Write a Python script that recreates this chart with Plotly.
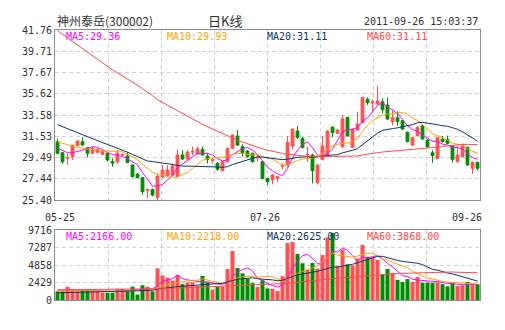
import plotly.graph_objects as go
import pandas as pd

# ---------------- data ----------------
date_labels = ["05-25", "07-26", "09-26"]
date_idx = [0, 42, 84]

price_ticks = [25.40, 27.44, 29.49, 31.53, 33.58, 35.62, 37.67, 39.71, 41.76]
vol_ticks = [0, 2429, 4858, 7287, 9716]

open_ = [31.01, 29.95, 29.42, 29.57, 30.63, 31.00, 30.43, 29.90, 30.00, 29.80,
         29.89, 29.10, 29.05, 29.72, 29.63, 28.77, 27.90, 27.55, 26.35, 26.40,
         25.65, 27.65, 27.74, 27.80, 27.65, 29.73, 29.35, 30.02, 29.83, 30.27,
         29.63, 29.22, 28.93, 28.22, 29.09, 30.37, 31.56, 30.53, 30.11, 29.89,
         29.45, 29.09, 27.48, 27.38, 27.48, 28.65, 28.77, 30.60, 32.04, 31.33,
         29.78, 29.73, 27.07, 29.31, 29.63, 32.40, 31.82, 30.53, 33.36, 30.47,
         32.14, 32.84, 35.09, 34.77, 34.64, 34.86, 34.54, 32.94, 33.32, 33.03,
         31.91, 30.69, 31.59, 32.52, 31.17, 29.95, 29.41, 31.24, 31.24, 30.60,
         29.09, 29.57, 30.47, 28.45, 29.02]
high = [31.34, 30.00, 29.89, 30.70, 31.12, 31.45, 30.50, 30.50, 30.40, 30.15,
        29.95, 29.40, 30.20, 29.88, 30.00, 28.80, 27.95, 27.60, 26.50, 26.50,
        27.90, 28.75, 28.77, 28.90, 30.27, 30.20, 30.20, 30.53, 30.53, 30.53,
        29.95, 29.41, 29.05, 29.15, 30.45, 31.72, 32.13, 30.75, 30.20, 29.95,
        29.73, 29.15, 27.55, 27.90, 27.70, 28.93, 31.56, 32.25, 32.52, 31.45,
        30.53, 29.85, 28.85, 31.56, 32.10, 32.52, 32.25, 33.58, 33.40, 32.30,
        33.90, 35.30, 35.28, 35.10, 36.37, 35.18, 35.25, 34.05, 33.90, 33.10,
        32.00, 31.45, 32.52, 32.60, 31.25, 30.20, 31.45, 31.56, 31.60, 30.65,
        30.60, 30.85, 30.55, 29.10, 29.10]
low = [29.80, 28.90, 28.80, 29.25, 30.58, 30.62, 29.50, 29.80, 29.90, 29.70,
       29.10, 28.60, 28.90, 29.60, 28.95, 27.58, 27.48, 25.90, 25.56, 25.75,
       25.40, 27.50, 27.70, 27.75, 27.55, 29.25, 29.30, 29.73, 29.80, 29.65,
       28.93, 28.93, 28.22, 28.15, 29.00, 30.30, 30.60, 29.57, 29.50, 29.00,
       29.09, 27.40, 26.84, 26.90, 27.16, 28.35, 28.60, 30.30, 31.30, 30.35,
       29.09, 27.00, 26.90, 29.20, 29.50, 31.43, 31.75, 30.40, 31.50, 30.40,
       32.05, 32.80, 34.55, 33.80, 34.60, 33.74, 33.10, 32.60, 32.55, 32.15,
       30.95, 30.55, 31.50, 31.20, 30.45, 28.99, 29.35, 30.95, 30.80, 28.99,
       29.00, 29.50, 28.70, 27.90, 28.25]
close = [29.90, 29.08, 29.47, 30.68, 31.08, 30.70, 29.90, 30.35, 30.28, 30.05,
         29.25, 28.95, 29.90, 29.78, 29.00, 27.64, 27.55, 26.20, 26.40, 25.88,
         27.70, 28.29, 28.29, 28.67, 29.73, 29.35, 29.99, 30.05, 30.31, 29.73,
         29.31, 29.27, 28.35, 29.09, 30.37, 31.66, 30.69, 29.95, 29.57, 29.09,
         29.50, 27.48, 27.16, 27.80, 27.64, 28.70, 30.95, 32.23, 31.43, 30.47,
         29.80, 28.22, 28.77, 30.60, 32.04, 31.88, 32.14, 33.20, 31.56, 32.20,
         32.71, 35.25, 34.77, 34.82, 34.93, 34.12, 33.20, 33.32, 32.94, 32.23,
         31.01, 31.40, 32.39, 31.27, 30.53, 29.67, 31.40, 31.01, 30.85, 29.31,
         29.73, 30.60, 28.77, 29.02, 28.45]
volume = [1200, 1200, 1850, 1350, 1200, 1350, 1350, 1200, 1200, 1000,
          1000, 1000, 1550, 1550, 1200, 1850, 750, 2050, 1850, 1200,
          4400, 3400, 3100, 2700, 3500, 2200, 2450, 2450, 1950, 3350,
          2450, 1450, 1850, 1850, 4300, 6800, 4450, 3700, 2950, 2350,
          1800, 2750, 1600, 1550, 1250, 3300, 7900, 8050, 6400, 5100,
          4200, 5150, 4350, 6250, 8700, 9300, 4700, 7000, 4950, 4800,
          5750, 7650, 6000, 5900, 5550, 3600, 4300, 3700, 2800, 2500,
          2900, 2500, 3200, 2400, 2420, 2400, 2450, 2200, 1900, 2400,
          1950, 2050, 2500, 2150, 2180]

# moving-average values before enough history is on screen
ma5_head = [30.40, 30.15, 29.95, 29.95]
ma10_head = [31.00, 30.85, 30.70, 30.55, 30.45, 30.38, 30.30, 30.25, 30.20]
ma20_head = [32.65, 32.45, 32.25, 32.05, 31.85, 31.66, 31.50, 31.30, 31.10, 30.92,
             30.75, 30.58, 30.40, 30.21, 30.00, 29.78, 29.55, 29.31, 29.15]
ma60_head = [41.70, 41.35, 41.00, 40.65, 40.30, 39.95, 39.60, 39.25, 38.90, 38.55,
             38.22, 37.92, 37.63, 37.35, 37.07, 36.79, 36.45, 36.12, 35.80, 35.45,
             35.05, 34.78, 34.52, 34.26, 34.00, 33.75, 33.45, 33.18, 32.92, 32.68,
             32.45, 32.22, 32.00, 31.78, 31.55, 31.35, 31.15, 30.98, 30.80, 30.62,
             30.46, 30.32, 30.20, 30.08, 29.98, 29.88, 29.80, 29.73, 29.68, 29.65,
             29.62, 29.60, 29.60, 29.60, 29.60, 29.60, 29.60, 29.60, 29.60]
vma5_head = [1400, 1380, 1400, 1450]
vma10_head = [1250, 1240, 1250, 1260, 1270, 1280, 1290, 1300, 1300]
vma20_head = [1000, 1010, 1020, 1030, 1040, 1060, 1080, 1100, 1120, 1140,
              1160, 1180, 1200, 1220, 1240, 1260, 1280, 1300, 1320]
vma60_head = [1400, 1405, 1410, 1415, 1420, 1425, 1430, 1435, 1440, 1445,
              1450, 1455, 1460, 1465, 1470, 1475, 1480, 1490, 1500, 1510,
              1540, 1570, 1600, 1630, 1660, 1690, 1720, 1750, 1770, 1800,
              1820, 1840, 1860, 1880, 1920, 1980, 2020, 2050, 2080, 2100,
              2110, 2130, 2140, 2150, 2160, 2200, 2300, 2400, 2480, 2550,
              2600, 2670, 2730, 2810, 2900, 2980, 3020, 3080, 3100]

price_ma_labels = ["MA5:29.36", "MA10:29.93", "MA20:31.11", "MA60:31.11"]
vol_ma_labels = ["MA5:2166.00", "MA10:2218.00", "MA20:2625.00", "MA60:3868.00"]

title_text = "神州泰岳(300002)"
kind_text = "日K线"
time_text = "2011-09-26 15:03:37"

# ---------------- styles ----------------
RED = "#FF4F4F"
GREEN = "#008C00"
MA_COLORS = ["#FF00FF", "#FFA500", "#0B3566", "#FF4A4A"]
GRID = "#D2D2D2"
FRAME = "#8C8C8C"
TXT = "#333333"
MONO = "DejaVu Sans Mono"

n = len(close)
x = list(range(n))


def ma(values, w, head):
    s = pd.Series(values, dtype=float).rolling(w).mean().tolist()
    return list(head) + s[len(head):]


price_mas = [ma(close, 5, ma5_head), ma(close, 10, ma10_head),
             ma(close, 20, ma20_head), ma(close, 60, ma60_head)]
vol_mas = [ma(volume, 5, vma5_head), ma(volume, 10, vma10_head),
           ma(volume, 20, vma20_head), ma(volume, 60, vma60_head)]

vol_colors = [RED if c >= o else GREEN for o, c in zip(open_, close)]

fig = go.Figure()

fig.add_trace(go.Candlestick(
    x=x, open=open_, high=high, low=low, close=close,
    increasing=dict(line=dict(color=RED, width=1), fillcolor=RED),
    decreasing=dict(line=dict(color=GREEN, width=1), fillcolor=GREEN),
    whiskerwidth=0, xaxis="x", yaxis="y", showlegend=False, hoverinfo="skip"))

for vals, col in zip(price_mas, MA_COLORS):
    fig.add_trace(go.Scatter(x=x, y=vals, mode="lines",
                             line=dict(color=col, width=1),
                             xaxis="x", yaxis="y", showlegend=False,
                             hoverinfo="skip"))

fig.add_trace(go.Bar(x=x, y=volume, marker=dict(color=vol_colors, line=dict(width=0)),
                     width=0.8, xaxis="x2", yaxis="y2", showlegend=False,
                     hoverinfo="skip"))

for vals, col in zip(vol_mas, MA_COLORS):
    fig.add_trace(go.Scatter(x=x, y=vals, mode="lines",
                             line=dict(color=col, width=1),
                             xaxis="x2", yaxis="y2", showlegend=False,
                             hoverinfo="skip"))

# layout geometry (pixels)
W, H = 505, 330
ML, MR, MT, MB = 55, 25, 30, 30
plot_h = H - MT - MB
price_bottom_px = 200
vol_top_px = 230


def py(px):  # pixel y -> paper y
    return (H - MB - px) / plot_h


def pxx(px):  # pixel x -> paper x
    return (px - ML) / (W - ML - MR)


xr = [-0.5, n - 0.5]
grid_x = [xr[0] + (xr[1] - xr[0]) * k / 8 for k in range(1, 8)]

common_x = dict(range=xr, tickvals=grid_x, showticklabels=False, ticks="",
                showgrid=True, gridcolor=GRID, griddash="4px,3px", gridwidth=1,
                showline=True, mirror=True, linecolor=FRAME, linewidth=1,
                zeroline=False, fixedrange=True)
common_y = dict(showgrid=True, gridcolor=GRID, griddash="4px,3px", gridwidth=1,
                showline=True, mirror=True, linecolor=FRAME, linewidth=1,
                zeroline=False, ticks="", tickfont=dict(family=MONO, size=10, color=TXT),
                fixedrange=True)

fig.update_layout(
    width=W, height=H,
    margin=dict(l=ML, r=MR, t=MT, b=MB, pad=0),
    paper_bgcolor="white", plot_bgcolor="white",
    showlegend=False,
    boxgap=0.2,
    xaxis=dict(domain=[0, 1], anchor="y", rangeslider=dict(visible=False), **common_x),
    xaxis2=dict(domain=[0, 1], anchor="y2", matches="x", **common_x),
    yaxis=dict(domain=[py(price_bottom_px), 1], anchor="x",
               range=[price_ticks[0], price_ticks[-1]],
               tickvals=price_ticks, ticktext=[f"{v:.2f}" for v in price_ticks],
               **common_y),
    yaxis2=dict(domain=[0, py(vol_top_px)], anchor="x2",
                range=[vol_ticks[0], vol_ticks[-1]],
                tickvals=vol_ticks, ticktext=[str(v) for v in vol_ticks],
                **common_y),
    bargap=0.2,
)

ann = []
# header
ann.append(dict(text=title_text, x=0, y=py(21), xref="paper", yref="paper",
                xanchor="left", yanchor="middle", showarrow=False,
                font=dict(family="Noto Sans CJK SC", size=12, color=TXT)))
ann.append(dict(text=kind_text, x=pxx(225), y=py(21), xref="paper", yref="paper",
                xanchor="center", yanchor="middle", showarrow=False,
                font=dict(family="Noto Sans CJK SC", size=13, color=TXT)))
ann.append(dict(text=time_text, x=pxx(480), y=py(22), xref="paper", yref="paper",
                xanchor="right", yanchor="middle", showarrow=False,
                font=dict(family=MONO, size=10, color=TXT)))
# MA legends
leg_x = [64, 165, 265, 365]
for lbl, col, lx in zip(price_ma_labels, MA_COLORS, leg_x):
    ann.append(dict(text=lbl, x=pxx(lx), y=py(37), xref="paper", yref="paper",
                    xanchor="left", yanchor="middle", showarrow=False,
                    font=dict(family=MONO, size=10, color=col)))
for lbl, col, lx in zip(vol_ma_labels, MA_COLORS, leg_x):
    ann.append(dict(text=lbl, x=pxx(lx), y=py(237), xref="paper", yref="paper",
                    xanchor="left", yanchor="middle", showarrow=False,
                    font=dict(family=MONO, size=10, color=col)))
# date labels
anchors = ["center", "center", "right"]
shifts = [2, -3, 6]
for lbl, idx, anc, sh in zip(date_labels, date_idx, anchors, shifts):
    ann.append(dict(text=lbl, x=idx, y=py(217), xref="x", yref="paper",
                    xanchor=anc, yanchor="middle", xshift=sh, showarrow=False,
                    font=dict(family=MONO, size=10, color=TXT)))
fig.update_layout(annotations=ann)

fig.write_html("out.html", config={"displayModeBar": False})
